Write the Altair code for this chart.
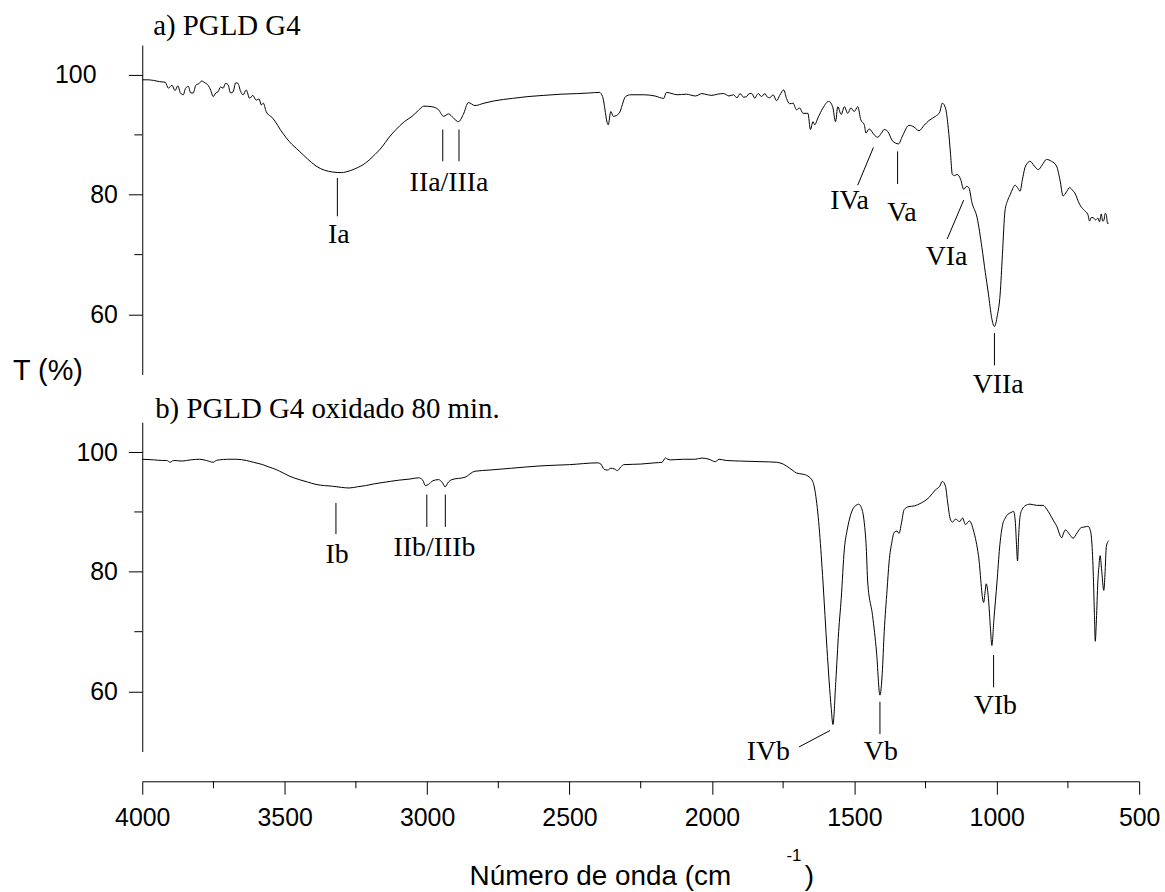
import altair as alt
import pandas as pd

# ---------------- data: spectrum a) PGLD G4 ----------------
WN_A = [4000, 3980, 3961, 3940, 3920, 3908, 3896, 3885, 3875, 3866, 3856, 3848, 3838, 3830, 3821,
        3812, 3800, 3792, 3780, 3769, 3760, 3751, 3742, 3734, 3725, 3716, 3708, 3699, 3690, 3681,
        3672, 3664, 3655, 3646, 3635, 3623, 3612, 3600, 3590, 3582, 3575, 3565, 3542, 3507, 3484,
        3449, 3420, 3390, 3360, 3332, 3300, 3286, 3250, 3216, 3190, 3158, 3135, 3111, 3080, 3053,
        3030, 3012, 2983, 2960, 2942, 2925, 2907, 2890, 2873, 2855, 2832, 2800, 2762, 2700, 2646,
        2590, 2529, 2471, 2430, 2395, 2384, 2364, 2355, 2346, 2326, 2303, 2285, 2239, 2200, 2169,
        2160, 2140, 2122, 2090, 2058, 2035, 2015, 2000, 1980, 1959, 1940, 1924, 1912, 1901, 1889,
        1878, 1869, 1860, 1849, 1843, 1837, 1826, 1814, 1805, 1797, 1785, 1773, 1762, 1748, 1738,
        1727, 1715, 1703, 1692, 1680, 1663, 1654, 1645, 1639, 1628, 1610, 1590, 1576, 1566, 1558,
        1546, 1535, 1523, 1512, 1500, 1488, 1477, 1465, 1459, 1448, 1430, 1418, 1405, 1395, 1383,
        1366, 1345, 1331, 1308, 1290, 1273, 1255, 1238, 1215, 1200, 1191, 1180, 1170, 1162, 1156,
        1148, 1139, 1127, 1116, 1106, 1098, 1087, 1069, 1052, 1040, 1029, 1018, 1008, 998, 988,
        980, 971, 962, 953, 944, 936, 927, 918, 910, 901, 892, 883, 868, 854, 840,
        825, 808, 790, 778, 767, 755, 744, 735, 726, 709, 695, 680, 674, 668, 662,
        653, 645, 639, 633, 628, 624, 619, 615, 611, 607]
T_A = [99.2, 99.2, 99.1, 98.9, 98.8, 97.8, 98.3, 97.4, 98.2, 97.0, 96.7, 97.8, 98.1, 97.0, 97.0,
       98.3, 98.6, 99.0, 98.7, 98.3, 97.5, 96.4, 97.0, 97.2, 98.0, 97.8, 98.6, 98.4, 97.0, 97.2,
       98.7, 98.6, 97.3, 96.7, 97.5, 96.1, 96.6, 95.8, 96.0, 95.0, 95.3, 93.9, 92.8, 90.3, 88.9,
       87.3, 86.0, 84.8, 84.1, 83.8, 83.7, 83.8, 84.4, 85.3, 86.4, 88.0, 89.5, 90.8, 92.2, 93.1,
       94.1, 94.8, 94.7, 94.2, 93.1, 93.5, 92.8, 92.2, 93.4, 95.4, 94.9, 95.3, 95.7, 96.1, 96.4,
       96.6, 96.8, 96.9, 97.0, 97.1, 96.4, 91.7, 93.9, 93.1, 93.6, 96.4, 96.7, 96.7, 96.5, 96.1,
       97.1, 96.9, 96.7, 96.8, 96.5, 96.9, 96.7, 96.6, 96.8, 96.9, 96.5, 96.7, 96.2, 96.9, 96.3,
       96.4, 96.9, 96.9, 96.1, 96.6, 96.9, 96.4, 96.9, 96.3, 96.2, 96.7, 95.7, 96.6, 97.5, 96.1,
       95.2, 95.3, 94.2, 94.5, 93.6, 93.6, 90.9, 92.2, 91.7, 92.8, 94.5, 95.6, 94.7, 92.2, 94.7,
       93.4, 94.7, 93.6, 94.5, 93.9, 94.7, 92.5, 91.7, 90.3, 91.0, 90.0, 89.6, 90.3, 90.9, 90.6,
       89.0, 88.5, 89.8, 91.6, 91.3, 90.7, 91.6, 92.4, 93.1, 93.8, 95.3, 94.5, 91.1, 86.7, 83.4,
       83.2, 83.4, 82.6, 80.9, 81.4, 81.2, 78.7, 76.2, 71.2, 67.0, 63.4, 59.5, 58.0, 59.8, 63.4,
       70.0, 77.3, 79.0, 80.0, 81.0, 81.6, 81.2, 80.6, 82.5, 84.5, 85.3, 85.6, 84.8, 84.2, 85.0,
       85.9, 85.6, 84.8, 82.5, 79.8, 80.5, 81.2, 80.8, 80.3, 78.4, 77.5, 76.7, 75.6, 76.2, 76.2,
       75.8, 76.1, 75.5, 76.8, 75.6, 75.7, 76.9, 76.6, 75.2, 75.3]

# ---------------- data: spectrum b) PGLD G4 oxidado 80 min. ----------------
WN_B = [4000, 3960, 3930, 3914, 3902, 3890, 3860, 3830, 3798, 3775, 3751, 3740, 3728, 3700, 3670,
        3635, 3610, 3577, 3555, 3531, 3505, 3484, 3449, 3420, 3390, 3360, 3332, 3300, 3274, 3245,
        3216, 3185, 3158, 3100, 3060, 3030, 3015, 3006, 2995, 2980, 2960, 2945, 2937, 2925, 2913,
        2867, 2832, 2780, 2704, 2600, 2500, 2401, 2390, 2378, 2366, 2355, 2343, 2332, 2320, 2309,
        2250, 2200, 2175, 2163, 2155, 2146, 2100, 2060, 2035, 2010, 1988, 1975, 1950, 1900, 1831,
        1773, 1750, 1727, 1715, 1703, 1680, 1663, 1646, 1635, 1622, 1610, 1596, 1581, 1575, 1565,
        1555, 1546, 1535, 1525, 1517, 1505, 1494, 1485, 1477, 1465, 1458, 1453, 1436, 1422, 1410,
        1402, 1395, 1385, 1378, 1368, 1360, 1350, 1343, 1335, 1325, 1308, 1290, 1265, 1238, 1215,
        1200, 1191, 1180, 1172, 1163, 1155, 1145, 1130, 1120, 1110, 1096, 1081, 1064, 1046, 1040,
        1037, 1029, 1022, 1017, 1010, 999, 990, 980, 970, 961, 950, 941, 935, 930, 927,
        923, 918, 910, 901, 883, 860, 837, 825, 813, 800, 790, 772, 765, 759, 745,
        732, 718, 703, 690, 680, 672, 668, 662, 657, 654, 650, 645, 641, 637, 632,
        624, 620, 615, 607]
T_B = [98.8, 98.7, 98.6, 98.6, 98.3, 98.6, 98.5, 98.7, 98.8, 98.6, 98.3, 98.6, 98.7, 98.8, 98.8,
       98.6, 98.3, 97.9, 97.5, 97.1, 96.5, 96.0, 95.4, 95.0, 94.6, 94.4, 94.3, 94.1, 94.0, 94.2,
       94.4, 94.7, 94.9, 95.3, 95.5, 95.7, 95.3, 94.4, 94.6, 95.2, 95.4, 94.8, 94.2, 95.0, 95.4,
       95.8, 96.8, 97.0, 97.3, 97.7, 97.9, 98.2, 98.0, 97.1, 97.0, 97.3, 97.2, 96.9, 97.5, 97.9,
       98.0, 98.2, 98.3, 99.0, 98.8, 98.7, 98.8, 98.8, 99.0, 98.8, 98.4, 98.8, 98.6, 98.5, 98.4,
       98.3, 98.0, 97.3, 96.9, 96.5, 96.3, 96.0, 95.1, 92.6, 86.6, 78.3, 67.2, 57.2, 54.5, 61.7,
       70.0, 75.5, 83.8, 87.0, 88.8, 90.5, 91.1, 91.3, 90.9, 88.2, 84.0, 78.3, 72.7, 66.6, 59.4,
       63.0, 70.0, 77.0, 81.6, 85.0, 86.6, 86.8, 86.4, 88.0, 90.4, 90.9, 91.0, 91.5, 92.4, 93.7,
       94.3, 95.1, 94.3, 91.5, 88.8, 88.3, 88.8, 88.4, 89.0, 87.9, 88.5, 86.8, 82.7, 74.9, 77.0,
       78.0, 75.5, 70.5, 67.7, 72.0, 78.3, 84.0, 87.7, 89.0, 89.6, 89.9, 90.1, 88.5, 84.0, 81.8,
       86.0, 89.3, 90.5, 91.0, 91.3, 91.1, 91.1, 90.5, 89.6, 88.5, 87.7, 85.7, 86.5, 87.0, 86.3,
       85.6, 86.5, 87.4, 87.5, 87.6, 87.0, 86.0, 81.0, 73.0, 68.4, 72.0, 78.3, 81.0, 82.7, 80.5,
       76.9, 79.5, 84.3, 85.2]

# ---------------- band labels ----------------
LAB_A = ["Ia", "IIa/IIIa", "IVa", "Va", "VIa", "VIIa"]
LAB_A_X = [3310, 2923, 1517, 1333, 1176, 995]
LAB_A_Y = [72.0, 80.6, 77.6, 75.7, 68.3, 46.9]
CON_A_X1 = [3315, 2945, 2888, 1433, 1348, 1116, 1008]
CON_A_Y1 = [82.8, 90.9, 90.9, 87.9, 87.25, 79.1, 56.9]
CON_A_X2 = [3315, 2945, 2888, 1488, 1348, 1174, 1008]
CON_A_Y2 = [76.4, 85.6, 85.6, 81.6, 81.8, 72.6, 51.5]

LAB_B = ["Ib", "IIb/IIIb", "IVb", "Vb", "VIb"]
LAB_B_X = [3316, 2974, 1802, 1407, 1005]
LAB_B_Y = [81.4, 82.7, 48.5, 48.5, 56.2]
CON_B_X1 = [3320, 3001, 2936, 1585, 1410, 1011]
CON_B_Y1 = [91.5, 92.9, 92.9, 53.5, 58.3, 66.1]
CON_B_X2 = [3320, 3001, 2936, 1694, 1410, 1011]
CON_B_Y2 = [86.3, 87.5, 87.5, 50.75, 52.9, 60.7]

X_MAJOR = [4000, 3500, 3000, 2500, 2000, 1500, 1000, 500]
X_MINOR = [3750, 3250, 2750, 2250, 1750, 1250, 750]
Y_MAJOR = [60, 80, 100]
Y_MINOR = [70, 90]

W = 1002
H = 331
SANS = "Liberation Sans"
SERIF = "Liberation Serif"

xs = alt.Scale(domain=[4000, 500], nice=False, zero=False)
ys = alt.Scale(domain=[50, 105], nice=False, zero=False)


def y_axis(top):
    kw = dict(values=Y_MAJOR, tickSize=14, labelPadding=11, labelFont=SANS, labelFontSize=25,
              labelColor="black", domainColor="black", tickColor="black", domainWidth=1,
              tickWidth=1, grid=False, title=None, labelFlush=False, labelOverlap=False)
    if top:
        # the "100" of the upper panel sits further left; it is drawn as a text mark
        kw["labelExpr"] = "datum.value == 100 ? '' : datum.label"
    return alt.Axis(**kw)


x_axis_bottom = alt.Axis(
    values=X_MAJOR, tickSize=13, offset=30, labelPadding=11, labelFont=SANS, labelFontSize=25,
    labelColor="black", domainColor="black", tickColor="black", domainWidth=1, tickWidth=1,
    grid=False, labelFlush=False, labelOverlap=False, format="d", title=None)


def static_text(txt, x, y, font, size, align="left"):
    return alt.Chart(pd.DataFrame({"t": [txt]})).mark_text(
        font=font, fontSize=size, align=align, baseline="alphabetic", color="black").encode(
        text="t:N", x=alt.value(x), y=alt.value(y))


def panel(wn, tv, labs, lx, ly, c1x, c1y, c2x, c2y, title, title_x, title_y, bottom):
    xa = x_axis_bottom if bottom else None
    ya = y_axis(not bottom)
    X = lambda f: alt.X(f, type="quantitative", scale=xs, axis=xa)
    Y = lambda f: alt.Y(f, type="quantitative", scale=ys, axis=ya)

    spec = pd.DataFrame({"wn": wn, "T": tv})
    line = alt.Chart(spec).mark_line(color="black", strokeWidth=1, interpolate="monotone").encode(
        x=X("wn"), y=Y("T"))

    con = pd.DataFrame({"x1": c1x, "y1": c1y, "x2": c2x, "y2": c2y})
    rules = alt.Chart(con).mark_rule(color="black", strokeWidth=1).encode(
        x=X("x1"), y=Y("y1"), x2="x2:Q", y2="y2:Q")

    lab = pd.DataFrame({"x": lx, "y": ly, "t": labs})
    texts = alt.Chart(lab).mark_text(font=SERIF, fontSize=28, align="center",
                                     baseline="alphabetic", color="black").encode(
        x=X("x"), y=Y("y"), text="t:N")

    ymin = alt.Chart(pd.DataFrame({"v": Y_MINOR})).mark_rule(color="black", strokeWidth=1).encode(
        y=Y("v"), x=alt.value(-8), x2=alt.value(0))

    layers = [line, rules, texts, ymin, static_text(title, title_x, title_y, SERIF, 29)]

    if bottom:
        xmin = alt.Chart(pd.DataFrame({"v": X_MINOR})).mark_rule(color="black", strokeWidth=1).encode(
            x=X("v"), y=alt.value(H + 30), y2=alt.value(H + 37))
        layers += [
            xmin,
            static_text("Número de onda (cm", 329, 465, SANS, 28),
            static_text("-1", 655, 441, SANS, 17, align="center"),
            static_text(")", 666, 465, SANS, 28),
        ]
    else:
        lab100 = alt.Chart(pd.DataFrame({"v": [100], "t": ["100"]})).mark_text(
            font=SANS, fontSize=25, align="right", baseline="middle", color="black").encode(
            y=Y("v"), x=alt.value(-46), text="t:N")
        layers += [lab100, static_text("T (%)", -130, 337, SANS, 29)]

    return alt.layer(*layers).properties(width=W, height=H)


top = panel(WN_A, T_A, LAB_A, LAB_A_X, LAB_A_Y, CON_A_X1, CON_A_Y1, CON_A_X2, CON_A_Y2,
            "a) PGLD G4", 11, -10, False)
bottom = panel(WN_B, T_B, LAB_B, LAB_B_X, LAB_B_Y, CON_B_X1, CON_B_Y1, CON_B_X2, CON_B_Y2,
               "b) PGLD G4 oxidado 80 min.", 13, -4, True)

chart = alt.vconcat(top, bottom, spacing=48, bounds="flush").properties(
    padding={"left": 13, "top": 10, "right": 5, "bottom": 5},
    background="white",
).configure_view(stroke=None)

chart.save("out.html", embed_options={"renderer": "svg", "actions": False})
